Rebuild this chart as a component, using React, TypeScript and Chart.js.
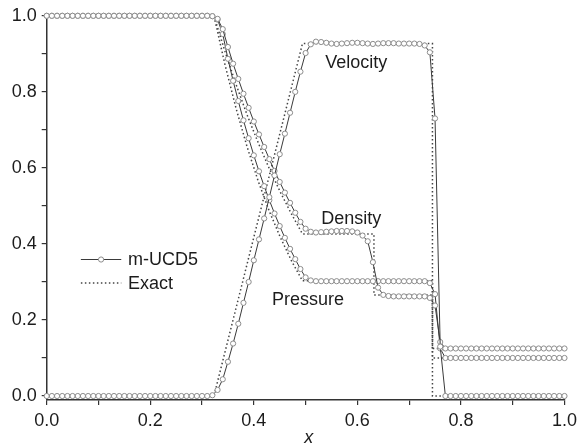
import React, { useEffect, useRef } from "react";
import { Chart, registerables } from "chart.js";

Chart.register(...registerables);

// ---- data ----
const gridX = [
  0.00, 0.01, 0.02, 0.03, 0.04, 0.05, 0.06, 0.07, 0.08, 0.09,
  0.10, 0.11, 0.12, 0.13, 0.14, 0.15, 0.16, 0.17, 0.18, 0.19,
  0.20, 0.21, 0.22, 0.23, 0.24, 0.25, 0.26, 0.27, 0.28, 0.29,
  0.30, 0.31, 0.32, 0.33, 0.34, 0.35, 0.36, 0.37, 0.38, 0.39,
  0.40, 0.41, 0.42, 0.43, 0.44, 0.45, 0.46, 0.47, 0.48, 0.49,
  0.50, 0.51, 0.52, 0.53, 0.54, 0.55, 0.56, 0.57, 0.58, 0.59,
  0.60, 0.61, 0.62, 0.63, 0.64, 0.65, 0.66, 0.67, 0.68, 0.69,
  0.70, 0.71, 0.72, 0.73, 0.74, 0.75, 0.76, 0.77, 0.78, 0.79,
  0.80, 0.81, 0.82, 0.83, 0.84, 0.85, 0.86, 0.87, 0.88, 0.89,
  0.90, 0.91, 0.92, 0.93, 0.94, 0.95, 0.96, 0.97, 0.98, 0.99,
  1.00,
];

const velocityNum = [
  0, 0, 0, 0, 0, 0, 0, 0, 0, 0,
  0, 0, 0, 0, 0, 0, 0, 0, 0, 0,
  0, 0, 0, 0, 0, 0, 0, 0, 0, 0,
  0, 0, 0.002, 0.016, 0.044, 0.09, 0.138, 0.19, 0.245, 0.3,
  0.357, 0.412, 0.467, 0.523, 0.58, 0.636, 0.69, 0.745, 0.8, 0.853,
  0.902, 0.925, 0.932, 0.931, 0.929, 0.927, 0.926, 0.927, 0.928, 0.929,
  0.929, 0.928, 0.927, 0.926, 0.927, 0.928, 0.928, 0.928, 0.927, 0.927,
  0.927, 0.927, 0.926, 0.922, 0.904, 0.73, 0.13, 0, 0, 0,
  0, 0, 0, 0, 0, 0, 0, 0, 0, 0,
  0, 0, 0, 0, 0, 0, 0, 0, 0, 0,
  0,
];

const densityNum = [
  1, 1, 1, 1, 1, 1, 1, 1, 1, 1,
  1, 1, 1, 1, 1, 1, 1, 1, 1, 1,
  1, 1, 1, 1, 1, 1, 1, 1, 1, 1,
  1, 1, 0.999, 0.992, 0.965, 0.918, 0.874, 0.834, 0.795, 0.758,
  0.722, 0.688, 0.655, 0.623, 0.592, 0.563, 0.535, 0.508, 0.482, 0.458,
  0.44, 0.432, 0.43, 0.431, 0.432, 0.433, 0.434, 0.434, 0.434, 0.433,
  0.43, 0.422, 0.407, 0.352, 0.285, 0.266, 0.263, 0.262, 0.262, 0.262,
  0.262, 0.262, 0.262, 0.262, 0.258, 0.238, 0.142, 0.125, 0.125, 0.125,
  0.125, 0.125, 0.125, 0.125, 0.125, 0.125, 0.125, 0.125, 0.125, 0.125,
  0.125, 0.125, 0.125, 0.125, 0.125, 0.125, 0.125, 0.125, 0.125, 0.125,
  0.125,
];

const pressureNum = [
  1, 1, 1, 1, 1, 1, 1, 1, 1, 1,
  1, 1, 1, 1, 1, 1, 1, 1, 1, 1,
  1, 1, 1, 1, 1, 1, 1, 1, 1, 1,
  1, 1, 0.999, 0.99, 0.952, 0.887, 0.829, 0.776, 0.725, 0.678,
  0.633, 0.591, 0.552, 0.515, 0.48, 0.447, 0.416, 0.387, 0.36, 0.334,
  0.312, 0.304, 0.302, 0.302, 0.302, 0.302, 0.302, 0.302, 0.302, 0.302,
  0.302, 0.302, 0.302, 0.302, 0.302, 0.302, 0.302, 0.302, 0.302, 0.302,
  0.302, 0.302, 0.302, 0.302, 0.297, 0.268, 0.125, 0.1, 0.1, 0.1,
  0.1, 0.1, 0.1, 0.1, 0.1, 0.1, 0.1, 0.1, 0.1, 0.1,
  0.1, 0.1, 0.1, 0.1, 0.1, 0.1, 0.1, 0.1, 0.1, 0.1,
  0.1,
];

const exactVelX = [0, 0.323, 0.494, 0.745, 0.745, 1.0];
const exactVel = [0, 0, 0.927, 0.927, 0, 0];

const exactRhoX = [0, 0.323, 0.3444, 0.3658, 0.3871, 0.4085, 0.4299, 0.4513, 0.4726, 0.494, 0.632, 0.632, 0.745, 0.745, 1.0];
const exactRho = [1, 1, 0.906, 0.819, 0.739, 0.666, 0.598, 0.536, 0.479, 0.426, 0.426, 0.2656, 0.2656, 0.125, 0.125];

const exactPX = [0, 0.323, 0.3444, 0.3658, 0.3871, 0.4085, 0.4299, 0.4513, 0.4726, 0.494, 0.745, 0.745, 1.0];
const exactP = [1, 1, 0.871, 0.756, 0.655, 0.565, 0.486, 0.417, 0.356, 0.303, 0.303, 0.1, 0.1];

const tickValues = [0, 0.1, 0.2, 0.3, 0.4, 0.5, 0.6, 0.7, 0.8, 0.9, 1.0];
const tickLabels = ["0.0", "", "0.2", "", "0.4", "", "0.6", "", "0.8", "", "1.0"];

const seriesNames = ["m-UCD5", "Exact"];
const curveNames = ["Velocity", "Density", "Pressure"];

// ---- styling ----
const FONT = '"Liberation Sans", Arial, Helvetica, sans-serif';
const TEXT = "#1c1c1c";
const AXIS = "#333333";

const curveLabelPos = [
  { x: 0.538, y: 0.864 },
  { x: 0.530, y: 0.453 },
  { x: 0.435, y: 0.239 },
];

const pts = (xs: number[], ys: number[]) => xs.map((x, i) => ({ x, y: ys[i] }));

const numStyle = {
  borderColor: "#3a3a3a",
  borderWidth: 1,
  pointRadius: 2.6,
  pointBorderWidth: 1,
  pointBorderColor: "#8c8c8c",
  pointBackgroundColor: "#ffffff",
  tension: 0,
  clip: false as any,
};
const exactStyle = {
  borderColor: "#444444",
  borderWidth: 1.5,
  borderDash: [1.5, 2.5],
  pointRadius: 0,
  tension: 0,
  clip: false as any,
};

const overlay = {
  id: "overlay",
  afterDatasetsDraw(chart: any) {
    const { ctx, scales } = chart;
    const xs = scales.x;
    const ys = scales.y;
    ctx.save();
    ctx.fillStyle = TEXT;
    ctx.font = `18px ${FONT}`;
    ctx.textAlign = "left";
    ctx.textBaseline = "alphabetic";
    curveNames.forEach((n, i) => {
      ctx.fillText(n, xs.getPixelForValue(curveLabelPos[i].x), ys.getPixelForValue(curveLabelPos[i].y));
    });

    // legend
    const lx0 = xs.getPixelForValue(0.066);
    const lx1 = xs.getPixelForValue(0.144);
    const ly0 = ys.getPixelForValue(0.359);
    const ly1 = ys.getPixelForValue(0.297);
    ctx.strokeStyle = "#3a3a3a";
    ctx.lineWidth = 1;
    ctx.beginPath();
    ctx.moveTo(lx0, ly0);
    ctx.lineTo(lx1, ly0);
    ctx.stroke();
    ctx.beginPath();
    ctx.arc((lx0 + lx1) / 2, ly0, 2.6, 0, Math.PI * 2);
    ctx.fillStyle = "#ffffff";
    ctx.fill();
    ctx.strokeStyle = "#8c8c8c";
    ctx.stroke();
    ctx.strokeStyle = "#444444";
    ctx.lineWidth = 1.5;
    ctx.setLineDash([1.5, 2.5]);
    ctx.beginPath();
    ctx.moveTo(lx0, ly1);
    ctx.lineTo(lx1, ly1);
    ctx.stroke();
    ctx.setLineDash([]);
    ctx.fillStyle = TEXT;
    ctx.textBaseline = "middle";
    const tx = xs.getPixelForValue(0.157);
    ctx.fillText(seriesNames[0], tx, ly0 + 1);
    ctx.fillText(seriesNames[1], tx, ly1 + 1);

    // axis title
    ctx.font = `italic 18px ${FONT}`;
    ctx.textAlign = "center";
    ctx.textBaseline = "alphabetic";
    ctx.fillText("x", xs.getPixelForValue(0.506), chart.chartArea.bottom + 43);
    ctx.restore();
  },
};

export default function App() {
  const ref = useRef<HTMLCanvasElement | null>(null);
  useEffect(() => {
    if (!ref.current) return;
    const tickFont = { size: 18, family: FONT };
    const grid = { drawOnChartArea: false, drawTicks: true, tickLength: 5, color: AXIS, lineWidth: 1.2 };
    const border = { display: true, color: AXIS, width: 1.5 };
    const chart = new Chart(ref.current, {
      type: "line",
      data: {
        datasets: [
          { label: "Velocity m-UCD5", data: pts(gridX, velocityNum), ...numStyle },
          { label: "Density m-UCD5", data: pts(gridX, densityNum), ...numStyle },
          { label: "Pressure m-UCD5", data: pts(gridX, pressureNum), ...numStyle },
          { label: "Velocity Exact", data: pts(exactVelX, exactVel), ...exactStyle },
          { label: "Density Exact", data: pts(exactRhoX, exactRho), ...exactStyle },
          { label: "Pressure Exact", data: pts(exactPX, exactP), ...exactStyle },
        ] as any,
      },
      options: {
        animation: false,
        responsive: false,
        maintainAspectRatio: false,
        layout: { padding: { left: 0, right: 14.5, top: 15, bottom: 0 } },
        plugins: { legend: { display: false }, tooltip: { enabled: false } },
        scales: {
          x: {
            type: "linear",
            min: 0,
            max: 1,
            afterBuildTicks: (s: any) => {
              s.ticks = tickValues.map((v) => ({ value: v }));
            },
            afterFit: (s: any) => {
              s.height = 48;
            },
            grid,
            border,
            ticks: {
              autoSkip: false,
              maxRotation: 0,
              padding: 5,
              color: TEXT,
              font: tickFont,
              callback: (_v: any, i: number) => tickLabels[i],
            },
          },
          y: {
            type: "linear",
            min: -0.0105,
            max: 1.0,
            afterBuildTicks: (s: any) => {
              s.ticks = tickValues.map((v) => ({ value: v }));
            },
            afterFit: (s: any) => {
              s.width = 46.7;
            },
            grid,
            border,
            ticks: {
              autoSkip: false,
              padding: 5,
              color: TEXT,
              font: tickFont,
              callback: (_v: any, i: number) => tickLabels[i],
            },
          },
        },
      } as any,
      plugins: [overlay],
    });
    return () => chart.destroy();
  }, []);
  return (
    <div style={{ position: "fixed", left: 0, top: 0, width: 582, height: 448, background: "#fff" }}>
      <canvas ref={ref} width={582} height={448} />
    </div>
  );
}
